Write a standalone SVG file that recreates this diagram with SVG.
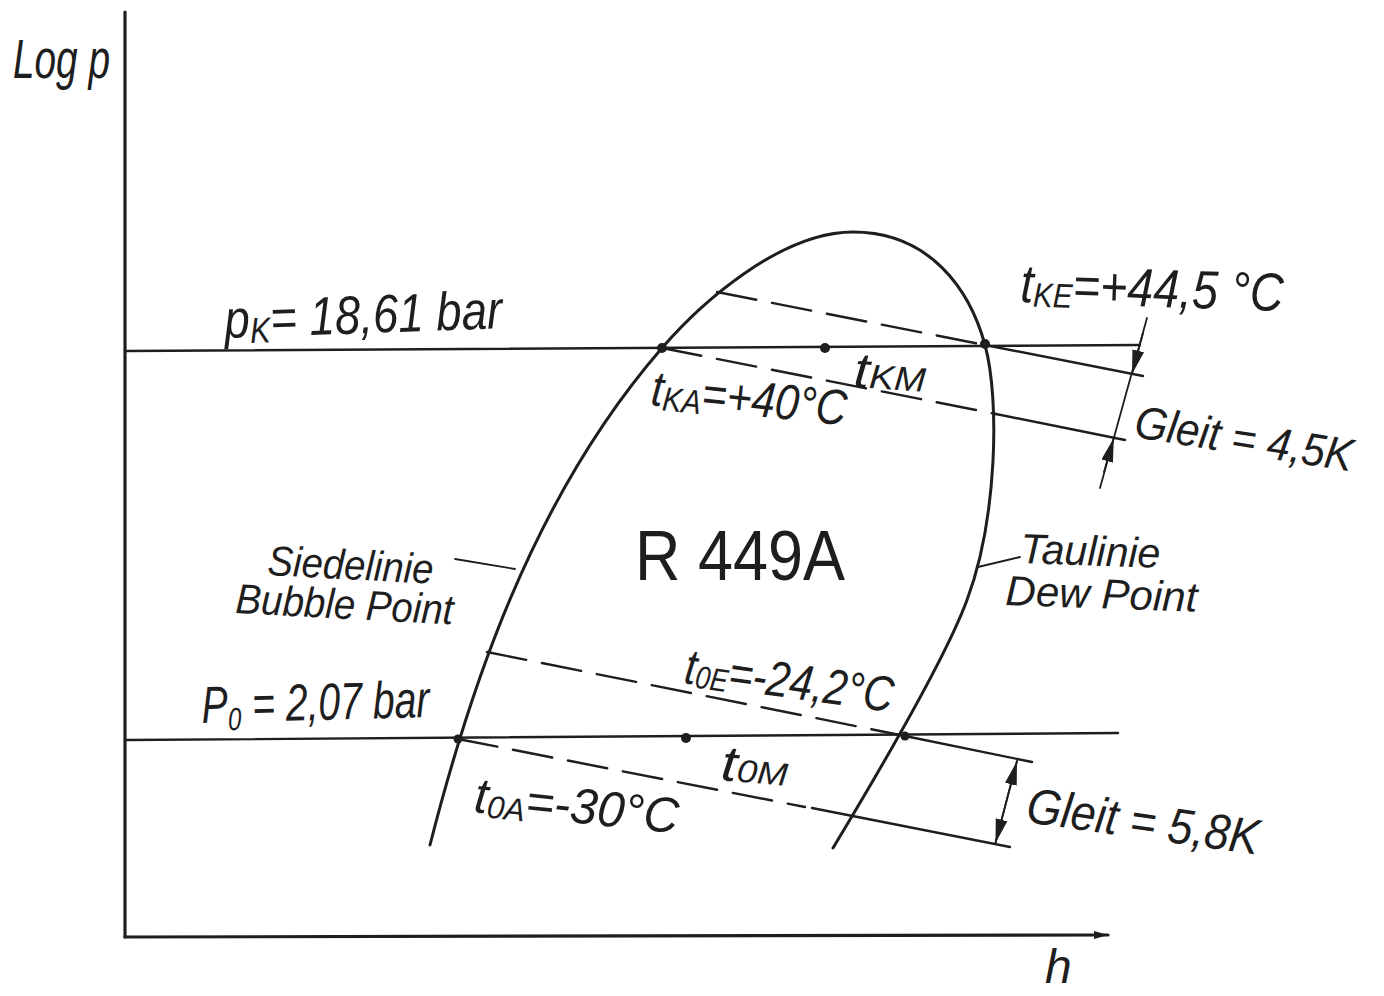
<svg xmlns="http://www.w3.org/2000/svg" width="1384" height="996" viewBox="0 0 1384 996">
<defs>
<style>
.ln{stroke:#1e1e1e;fill:none;stroke-linecap:round}
.ax{stroke-width:3.2}
.iso{stroke-width:2.4}
.thin{stroke-width:1.8}
.dash{stroke-width:2.4;stroke-dasharray:40 16}
.curve{stroke-width:3}
.dot{fill:#1e1e1e}
.lbl{font-family:"Liberation Sans",Arial,sans-serif;font-style:italic;fill:#1e1e1e}
</style>
<marker id="ah" viewBox="0 0 24 14" refX="24" refY="7" markerWidth="24" markerHeight="14" markerUnits="userSpaceOnUse" orient="auto"><path d="M0,1 L24,7 L0,13 z" fill="#1e1e1e"/></marker>
<marker id="axh" viewBox="0 0 14 8" refX="14" refY="4" markerWidth="14" markerHeight="8" markerUnits="userSpaceOnUse" orient="auto"><path d="M0,0 L14,4 L0,8 z" fill="#1e1e1e"/></marker>
</defs>
<rect width="1384" height="996" fill="#fff"/>

<g id="axes">
<line class="ln ax" x1="125" y1="12" x2="125" y2="937"/>
<line class="ln ax" x1="125" y1="937" x2="1108" y2="935" marker-end="url(#axh)"/>
</g>

<g id="dome">
<path class="ln curve" d="M430,845 C468,696 530,500 662,348 C700,304 780,232 853,232 C930,232 970,290 985,345 C1000,400 997,520 967,600 C945,660 880,770 833,848"/>
</g>

<g id="connectors">
<line class="ln iso" x1="127" y1="351" x2="1140" y2="345"/>
<line class="ln iso" x1="127" y1="740" x2="1118" y2="733"/>
<line class="ln dash" x1="717" y1="292" x2="985" y2="345"/>
<line class="ln iso" x1="985" y1="345" x2="1143" y2="376"/>
<line class="ln dash" x1="662" y1="348" x2="996" y2="414"/>
<line class="ln iso" x1="996" y1="414" x2="1125" y2="440"/>
<line class="ln dash" x1="487" y1="652" x2="905" y2="736"/>
<line class="ln iso" x1="905" y1="736" x2="1032" y2="762"/>
<line class="ln dash" x1="458" y1="739" x2="805" y2="807"/>
<line class="ln iso" x1="812" y1="808" x2="1010" y2="847"/>
<line class="ln thin" x1="1147" y1="318" x2="1100" y2="488"/>
<line class="ln thin" x1="1143" y1="333" x2="1132" y2="374" marker-end="url(#ah)"/>
<line class="ln thin" x1="1104" y1="472" x2="1113.8" y2="438" marker-end="url(#ah)"/>
<line class="ln thin" x1="1017" y1="761" x2="995.5" y2="843"/>
<line class="ln thin" x1="1007" y1="799" x2="1017" y2="761" marker-end="url(#ah)"/>
<line class="ln thin" x1="1007" y1="799" x2="995.5" y2="843" marker-end="url(#ah)"/>
<line class="ln thin" x1="455" y1="559" x2="515" y2="569"/>
<line class="ln thin" x1="978" y1="567" x2="1020" y2="557"/>
</g>

<g id="points">
<circle class="dot" cx="662" cy="348" r="5"/>
<circle class="dot" cx="825" cy="348" r="5"/>
<circle class="dot" cx="985" cy="344" r="5"/>
<circle class="dot" cx="458" cy="739" r="4.5"/>
<circle class="dot" cx="686" cy="738" r="5"/>
<circle class="dot" cx="905" cy="736" r="4.5"/>
</g>

<g id="labels">
<text class="lbl" x="13" y="78" font-size="56" textLength="97" lengthAdjust="spacingAndGlyphs">Log p</text>
<text class="lbl" x="225" y="338" font-size="54" transform="rotate(-2 225 338)" textLength="278" lengthAdjust="spacingAndGlyphs">p<tspan font-size="36" dy="6">K</tspan><tspan dy="-6">= 18,61 bar</tspan></text>
<text class="lbl" x="1020" y="302" font-size="54" transform="rotate(2 1020 302)" textLength="263" lengthAdjust="spacingAndGlyphs">t<tspan font-size="34" dy="4">KE</tspan><tspan dy="-4">=+44,5 °C</tspan></text>
<text class="lbl" x="1133" y="437" font-size="46" transform="rotate(9 1133 437)" textLength="220" lengthAdjust="spacingAndGlyphs">Gleit = 4,5K</text>
<text class="lbl" x="650" y="405" font-size="50" transform="rotate(6 650 405)" textLength="196" lengthAdjust="spacingAndGlyphs">t<tspan font-size="34" dy="4">KA</tspan><tspan dy="-4">=+40°C</tspan></text>
<text class="lbl" x="853" y="387" font-size="50" transform="rotate(4 853 387)" textLength="72" lengthAdjust="spacingAndGlyphs">t<tspan font-size="34">KM</tspan></text>
<text class="lbl" x="635" y="580" font-size="70" textLength="210" lengthAdjust="spacingAndGlyphs" style="font-style:normal">R 449A</text>
<text class="lbl" x="267" y="575" font-size="42" transform="rotate(3 267 575)" textLength="166" lengthAdjust="spacingAndGlyphs">Siedelinie</text>
<text class="lbl" x="235" y="613" font-size="42" transform="rotate(3 235 613)" textLength="218" lengthAdjust="spacingAndGlyphs">Bubble Point</text>
<text class="lbl" x="1020" y="563" font-size="42" transform="rotate(2 1020 563)" textLength="140" lengthAdjust="spacingAndGlyphs">Taulinie</text>
<text class="lbl" x="1005" y="605" font-size="42" transform="rotate(2 1005 605)" textLength="192" lengthAdjust="spacingAndGlyphs">Dew Point</text>
<text class="lbl" x="202" y="723" font-size="52" transform="rotate(-1.5 202 723)" textLength="228" lengthAdjust="spacingAndGlyphs">P<tspan font-size="32" dy="8">0</tspan><tspan dy="-8"> = 2,07 bar</tspan></text>
<text class="lbl" x="683" y="683" font-size="50" transform="rotate(8 683 683)" textLength="210" lengthAdjust="spacingAndGlyphs">t<tspan font-size="32" dy="3">0E</tspan><tspan dy="-3">=-24,2°C</tspan></text>
<text class="lbl" x="720" y="780" font-size="50" transform="rotate(5 720 780)" textLength="67" lengthAdjust="spacingAndGlyphs">t<tspan font-size="32">0M</tspan></text>
<text class="lbl" x="473" y="812" font-size="50" transform="rotate(6 473 812)" textLength="205" lengthAdjust="spacingAndGlyphs">t<tspan font-size="32" dy="4">0A</tspan><tspan dy="-4">=-30°C</tspan></text>
<text class="lbl" x="1025" y="822" font-size="50" transform="rotate(8 1025 822)" textLength="234" lengthAdjust="spacingAndGlyphs">Gleit = 5,8K</text>
<text class="lbl" x="1045" y="983" font-size="48">h</text>
</g>
</svg>
